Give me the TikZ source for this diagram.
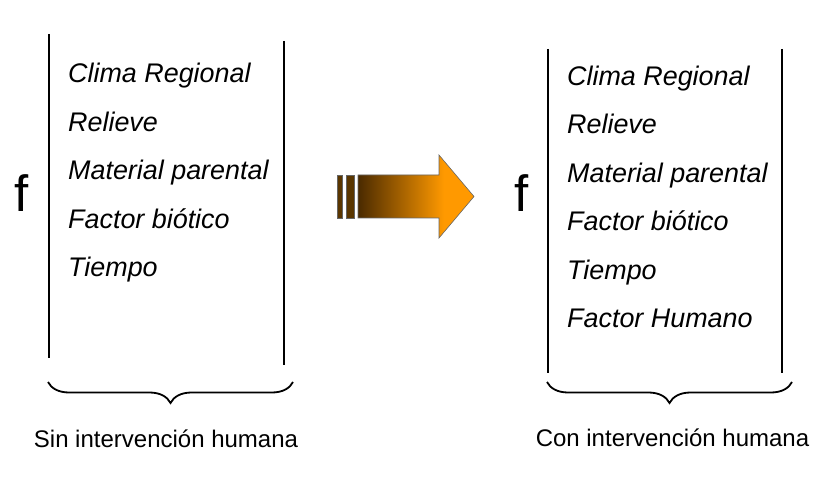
\documentclass[tikz,border=0pt]{standalone}
\usepackage{fontspec}
\setmainfont{Liberation Sans}
\usetikzlibrary{positioning, decorations.pathreplacing}

\definecolor{arrowbrown}{HTML}{4A2A00}
\definecolor{stripebrown}{HTML}{5A3600}
\definecolor{arroworange}{HTML}{FF9900}
\pgfdeclarehorizontalshading{brownorange}{100bp}{color(0bp)=(arrowbrown); color(25bp)=(arrowbrown); color(62bp)=(arroworange); color(100bp)=(arroworange)}

\begin{document}
\begin{tikzpicture}[
    x=1pt, y=-1pt,
    node distance=22pt,
    factor/.style={font=\fontsize{26.9}{30}\selectfont\itshape, inner sep=0pt, text height=19pt, text depth=7pt},
    func/.style={font=\fontsize{51}{60}\selectfont, inner sep=0pt},
    caption/.style={font=\fontsize{24}{28}\selectfont, inner sep=0pt},
    rule/.style={line width=1.8pt},
    curly/.style={line width=1.8pt, decorate, decoration={brace, mirror, amplitude=21pt}},
    stripe/.style={fill=stripebrown, draw=black!60, line width=0.6pt}
]
\useasboundingbox (0,0) rectangle (840,486);

% left panel
\node[func, anchor=base] (fl) at (22,212) {f};
\node[factor, anchor=base west] (l1) at (68,83) {Clima Regional};
\node[factor, below=of l1.south west, anchor=north west] (l2) {Relieve};
\node[factor, below=of l2.south west, anchor=north west] (l3) {Material parental};
\node[factor, below=of l3.south west, anchor=north west] (l4) {Factor biótico};
\node[factor, below=of l4.south west, anchor=north west] (l5) {Tiempo};

\coordinate (la) at (49,34);
\coordinate (lb) at (49,358);
\coordinate (lc) at (284,41);
\coordinate (ld) at (284,365);
\draw[rule] (la) -- (lb);
\draw[rule] (lc) -- (ld);

\coordinate (lbl) at (48,382);
\coordinate (lbr) at (293,382);
\draw[curly] (lbl) -- (lbr);
\node[caption, anchor=base] (capl) at (166,447.5) {Sin intervención humana};

% arrow
\path[stripe] (337,175) rectangle (342,218);
\path[stripe] (346,175) rectangle (354,218);
\path[draw=black!60, line width=0.6pt, shading=brownorange]
    (358,175) -- (439,175) -- (439,155) -- (474,196.5) -- (439,238) -- (439,218) -- (358,218) -- cycle;

% right panel
\node[func, anchor=base] (fr) at (522,212) {f};
\node[factor, anchor=base west] (r1) at (567,85.5) {Clima Regional};
\node[factor, below=of r1.south west, anchor=north west] (r2) {Relieve};
\node[factor, below=of r2.south west, anchor=north west] (r3) {Material parental};
\node[factor, below=of r3.south west, anchor=north west] (r4) {Factor biótico};
\node[factor, below=of r4.south west, anchor=north west] (r5) {Tiempo};
\node[factor, below=of r5.south west, anchor=north west] (r6) {Factor Humano};

\coordinate (ra) at (548,49);
\coordinate (rb) at (548,373);
\coordinate (rc) at (782,49);
\coordinate (rd) at (782,373);
\draw[rule] (ra) -- (rb);
\draw[rule] (rc) -- (rd);

\coordinate (rbl) at (547,382);
\coordinate (rbr) at (792,382);
\draw[curly] (rbl) -- (rbr);
\node[caption, anchor=base] (capr) at (672.5,446.7) {Con intervención humana};

\end{tikzpicture}
\end{document}
